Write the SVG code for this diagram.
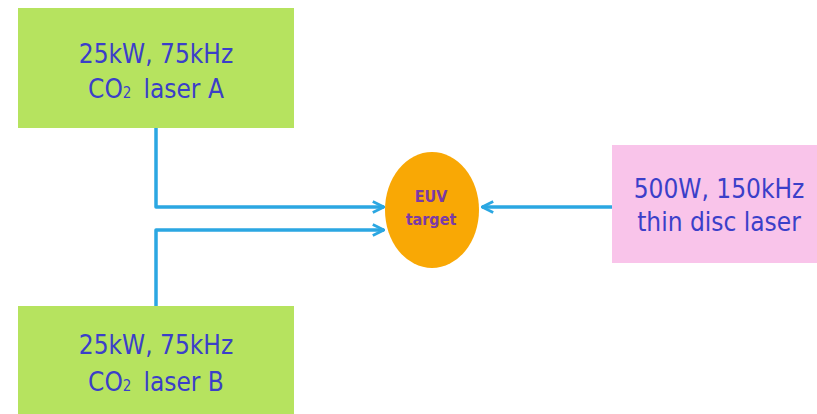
<svg xmlns="http://www.w3.org/2000/svg" width="817" height="414" viewBox="0 0 817 414">
<defs>
<style>
.green{fill:#b6e35f}
.pink{fill:#f9c4ea}
.lbl{font-family:"DejaVu Sans Condensed","DejaVu Sans",sans-serif;font-stretch:condensed;font-size:26px;fill:#3b3fc9;text-anchor:middle}
.sub{font-size:15px}
.euv{font-family:"DejaVu Sans Condensed","DejaVu Sans",sans-serif;font-stretch:condensed;font-size:16px;font-weight:bold;fill:#7b3aa6;text-anchor:middle}
.conn{fill:none;stroke:#2ba7e2;stroke-width:3.5;stroke-linejoin:round}
</style>
<marker id="arr" viewBox="0 0 10 10" refX="9" refY="5" markerWidth="4" markerHeight="4" orient="auto" markerUnits="strokeWidth">
<path d="M1,1 L9,5 L1,9" fill="none" stroke="#2ba7e2" stroke-width="2"/>
</marker>
</defs>
<rect width="817" height="414" fill="#ffffff"/>
<g id="laserA">
<rect class="green" x="18" y="8" width="276" height="120"/>
<text class="lbl" x="156" y="63">25kW, 75kHz</text>
<text class="lbl" x="156" y="98">CO<tspan class="sub">2</tspan><tspan dx="12">laser A</tspan></text>
</g>
<g id="laserB">
<rect class="green" x="18" y="306" width="276" height="120"/>
<text class="lbl" x="156" y="354">25kW, 75kHz</text>
<text class="lbl" x="156" y="391">CO<tspan class="sub">2</tspan><tspan dx="12">laser B</tspan></text>
</g>
<g id="disc">
<rect class="pink" x="612" y="145" width="210" height="118"/>
<text class="lbl" x="719" y="198">500W, 150kHz</text>
<text class="lbl" x="719" y="231">thin disc laser</text>
</g>
<g id="target">
<ellipse cx="432" cy="210" rx="47" ry="58" fill="#f9a805"/>
<text class="euv" x="431" y="202">EUV</text>
<text class="euv" x="431" y="225">target</text>
</g>
<g id="connectors">
<path class="conn" d="M156,128 V207 H384" marker-end="url(#arr)"/>
<path class="conn" d="M156,306 V230 H384" marker-end="url(#arr)"/>
<path class="conn" d="M612,207 H482" marker-end="url(#arr)"/>
</g>
</svg>
